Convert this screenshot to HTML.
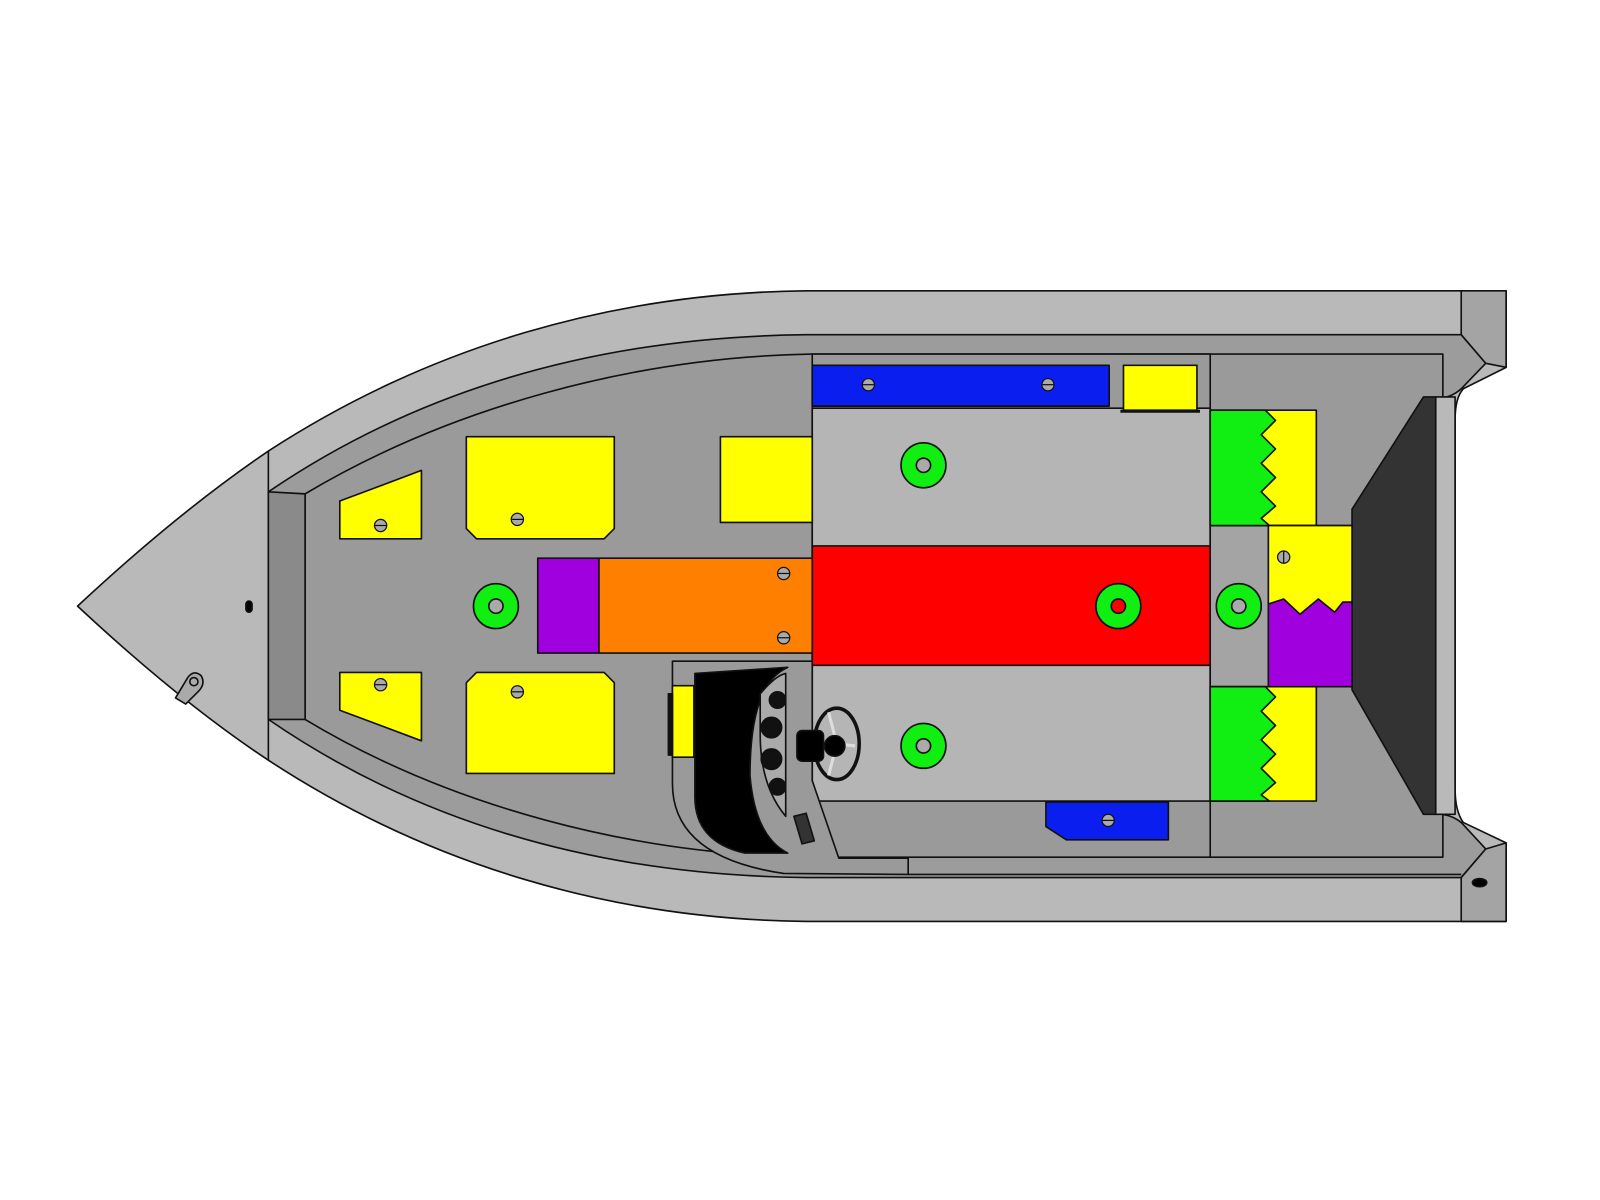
<!DOCTYPE html>
<html><head><meta charset="utf-8"><style>html,body{margin:0;padding:0;background:#fff}svg{display:block}</style></head>
<body>
<svg width="1600" height="1200" viewBox="0 0 1568 1176" xmlns="http://www.w3.org/2000/svg" stroke="#111" stroke-width="1.6" stroke-linejoin="round">
<rect x="0" y="0" width="1568" height="1176" fill="#fff" stroke="none"/>
<!-- outer hull -->
<path d="M76,594 C150,525 210,478 263,442 C420,340 600,287 790,285 L1476,285 L1476,360 L1434,381 Q1426,390 1426,411 L1426,773 Q1426,795 1434,806 L1476,826 L1476,903 L790,903 C600,901 420,848 263,745 C210,710 150,663 76,594 Z" fill="#b9b9b9"/>
<line x1="263" y1="442" x2="263" y2="745"/>
<!-- inner deck -->
<path d="M263,482 C420,375 600,330 790,328 L1432,328 L1456,356 L1432,381 Q1422,390 1410,390 L1410,798 Q1422,798 1432,806 L1456,832 L1432,860 L790,860 C600,858 420,813 263,705 Z" fill="#9c9c9c"/>
<!-- transom corners -->
<polygon points="1432,285 1476,285 1476,360 1456,356 1432,328" fill="#a4a4a4"/>
<polygon points="1432,903 1476,903 1476,826 1456,832 1432,860" fill="#a4a4a4"/>
<!-- floor -->
<path d="M299,484 C440,400 620,350 795,347 L1414,347 L1414,840 L795,840 C620,838 440,790 299,705 Z" fill="#9a9a9a"/>
<polygon points="263,482 299,484 299,705 263,705" fill="#8a8a8a"/>
<line x1="890" y1="840" x2="890" y2="857"/>
<line x1="890" y1="857" x2="1432" y2="857"/>
<!-- transom light strip & dark panel -->
<path d="M1407,389 L1426,389 L1426,798 L1407,798 Z" fill="#b9b9b9"/>
<polygon points="1325,499 1395,389 1407,389 1407,798 1395,798 1325,676" fill="#333"/>
<!-- cockpit -->
<rect x="796" y="347" width="390" height="493" fill="#9a9a9a"/>
<rect x="796" y="400" width="390" height="385" fill="#b5b5b5"/>
<rect x="796" y="358" width="291" height="40" fill="#0a1ef0"/>
<rect x="1101" y="358" width="72" height="44" fill="#ffff00"/>
<line x1="1098" y1="403" x2="1176" y2="403" stroke-width="3"/>
<rect x="796" y="535" width="390" height="117" fill="#ff0000"/>
<polygon points="1025,786 1145,786 1145,823 1045,823 1025,810" fill="#0a1ef0"/>
<!-- right area -->
<rect x="1186" y="515" width="57" height="158" fill="#a4a4a4"/>
<rect x="1186" y="402" width="104" height="113" fill="#ffff00"/>
<path d="M1186,402 L1240,402 L1250,412 L1236,426 L1250,440 L1236,454 L1250,468 L1236,482 L1250,496 L1236,508 L1244,515 L1186,515 Z" fill="#11ee11"/>
<rect x="1186" y="673" width="104" height="112" fill="#ffff00"/>
<path d="M1186,673 L1240,673 L1250,683 L1236,697 L1250,711 L1236,725 L1250,739 L1236,753 L1250,767 L1236,779 L1244,785 L1186,785 Z" fill="#11ee11"/>
<rect x="1243" y="515" width="82" height="158" fill="#a000dd"/>
<path d="M1243,515 L1325,515 L1325,590 L1316,590 L1308,600 L1292,587 L1274,602 L1258,587 L1243,592 Z" fill="#ffff00"/>
<!-- bow boxes -->
<polygon points="333,491 413,461 413,528 333,528" fill="#ffff00"/>
<polygon points="457,428 602,428 602,518 592,528 467,528 457,518" fill="#ffff00"/>
<rect x="706" y="428" width="90" height="84" fill="#ffff00"/>
<polygon points="333,659 413,659 413,726 333,696" fill="#ffff00"/>
<polygon points="467,659 592,659 602,669 602,758 457,758 457,669" fill="#ffff00"/>
<rect x="527" y="547" width="60" height="93" fill="#a000dd"/>
<rect x="587" y="547" width="209" height="93" fill="#ff8000"/>
<!-- console -->
<path d="M659,648 L796,648 L796,765 L822,841 L890,841 L890,857 L768,856 Q659,840 659,768 Z" fill="#9a9a9a"/>
<path d="M681,660 L772,654 Q735,670 735,760 Q740,820 772,836 L730,836 Q681,825 681,781 Z" fill="#000"/>
<path d="M745,680 Q760,662 770,660 L770,800 Q745,770 745,720 Z" fill="#aaa"/>
<circle cx="762" cy="686" r="8" fill="#111"/>
<circle cx="756" cy="713" r="10" fill="#111"/>
<circle cx="756" cy="744" r="10" fill="#111"/>
<circle cx="762" cy="771" r="8" fill="#111"/>
<rect x="659" y="672" width="21" height="70" fill="#ffff00"/>
<rect x="655" y="680" width="4" height="60" fill="#111"/>
<polygon points="778,800 790,797 798,824 786,827" fill="#333"/>
<ellipse cx="820" cy="729" rx="22" ry="35" fill="none" stroke-width="3.5"/>
<line x1="820" y1="729" x2="812" y2="698" stroke="#ddd" stroke-width="3"/>
<line x1="820" y1="729" x2="838" y2="731" stroke="#ddd" stroke-width="3"/>
<line x1="820" y1="729" x2="812" y2="760" stroke="#ddd" stroke-width="3"/>
<rect x="781" y="716" width="26" height="30" rx="5" fill="#000"/>
<circle cx="818" cy="731" r="10" fill="#000"/>
<!-- green rings -->
<g fill="#11ee11"><circle cx="486" cy="594" r="22"/><circle cx="905" cy="456" r="22"/><circle cx="905" cy="731" r="22"/><circle cx="1096" cy="594" r="22"/><circle cx="1214" cy="594" r="22"/></g>
<g fill="#aaa"><circle cx="486" cy="594" r="7"/><circle cx="905" cy="456" r="7"/><circle cx="905" cy="731" r="7"/><circle cx="1214" cy="594" r="7"/></g>
<circle cx="1096" cy="594" r="7" fill="#ff0000"/>
<!-- screws -->
<g fill="#aaa" stroke-width="1.2">
<circle cx="373" cy="515" r="6"/><circle cx="507" cy="509" r="6"/><circle cx="373" cy="671" r="6"/><circle cx="507" cy="678" r="6"/>
<circle cx="768" cy="562" r="6"/><circle cx="768" cy="625" r="6"/><circle cx="851" cy="377" r="6"/><circle cx="1027" cy="377" r="6"/>
<circle cx="1086" cy="804" r="6"/><circle cx="1258" cy="546" r="6"/>
</g>
<g stroke-width="1.2">
<line x1="367" y1="515" x2="379" y2="515"/><line x1="501" y1="509" x2="513" y2="509"/><line x1="367" y1="671" x2="379" y2="671"/><line x1="501" y1="678" x2="513" y2="678"/>
<line x1="762" y1="562" x2="774" y2="562"/><line x1="762" y1="625" x2="774" y2="625"/><line x1="845" y1="377" x2="857" y2="377"/><line x1="1021" y1="377" x2="1033" y2="377"/>
<line x1="1080" y1="804" x2="1092" y2="804"/><line x1="1258" y1="540" x2="1258" y2="552"/>
</g>
<!-- bow details -->
<rect x="241" y="589" width="6" height="11" rx="3" fill="#000"/>
<path d="M172,684 L184,664 Q190,656 197,662 Q202,670 194,678 L182,690 Z" fill="#aaa"/>
<circle cx="190" cy="668" r="4" fill="#aaa"/>
<ellipse cx="1450" cy="865" rx="7" ry="4" fill="#000"/>
</svg>
</body></html>
